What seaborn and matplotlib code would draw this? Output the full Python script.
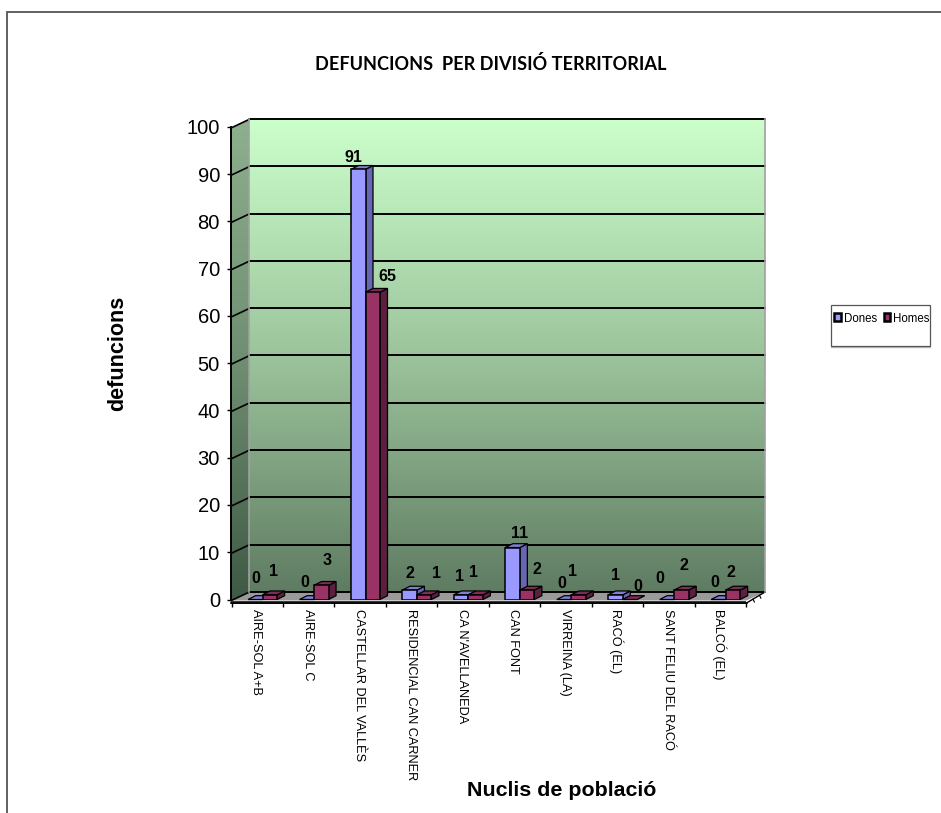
import numpy as np
import pandas as pd
import matplotlib
matplotlib.use("Agg")
import matplotlib.pyplot as plt
from matplotlib.colors import LinearSegmentedColormap
from matplotlib.patches import Polygon, Rectangle
import seaborn as sns

nuclis = ["AIRE-SOL A+B", "AIRE-SOL C", "CASTELLAR DEL VALLÈS", "RESIDENCIAL CAN CARNER",
          "CA N'AVELLANEDA", "CAN FONT", "VIRREINA (LA)", "RACÓ (EL)",
          "SANT FELIU DEL RACÓ", "BALCÓ (EL)"]
dones = [0, 0, 91, 2, 1, 11, 0, 1, 0, 0]
homes = [1, 3, 65, 1, 1, 2, 1, 0, 2, 2]
series_names = ["Dones", "Homes"]
y_ticks = list(range(0, 101, 10))

# label offsets from each bar's top centre, in pixels (the original labels wander)
off_dones = [(0, 21.5), (-2, 17.5), (-5, 12.3), (0, 17), (-2, 18), (7, 14.5), (-2, 16.5), (0.5, 19), (-7, 21.5), (-3.4, 17.5)]
off_homes = [(4, 22.8), (5.7, 25.3), (15, 16), (12, 21), (-2, 22), (10, 21), (-6.5, 23), (8, 13.5), (2.5, 25), (-2, 18)]

W, H = 941, 813
sns.set_theme(style="white")
plt.rcParams["font.family"] = ["Liberation Sans", "DejaVu Sans"]
fig = plt.figure(figsize=(W / 100, H / 100), dpi=100, facecolor="white")


def axes_px(x0, y_top, x1, y_bot, **kw):
    return fig.add_axes([x0 / W, 1 - y_bot / H, (x1 - x0) / W, (y_bot - y_top) / H], **kw)


# ---- pixel-space backdrop: frame, side wall, floor, legend box
bg = axes_px(0, 0, W, H)
bg.set_xlim(0, W)
bg.set_ylim(H, 0)
bg.axis("off")
bg.plot([7.5, 7.5, W], [H, 12.5, 12.5], color="#555555", lw=1.3, solid_joinstyle="miter")

side_cmap = LinearSegmentedColormap.from_list("side", ["#8DB08D", "#6F8F72", "#3F5A44"])
side_im = bg.imshow(np.linspace(0, 1, 256)[:, None], extent=(231, 249, 600, 119), cmap=side_cmap, aspect="auto", zorder=1)
side_poly = Polygon([(231, 128), (249, 119), (249, 592), (231, 600.5)], transform=bg.transData, facecolor="none", edgecolor="none")
bg.add_patch(side_poly)
side_im.set_clip_path(side_poly)
bg.set_xlim(0, W)
bg.set_ylim(H, 0)

bg.add_patch(Polygon([(231, 600.5), (249, 592), (765, 592), (746.5, 600.5)], facecolor="#9A9A9A", edgecolor="none", zorder=2))
bg.add_patch(Polygon([(231, 600.5), (746.5, 600.5), (746.5, 603.5), (231, 603.5)], facecolor="#3A3A3A", edgecolor="none", zorder=2))
bg.plot([746.5, 765], [603, 592], color="black", lw=1.0, zorder=3)
for t in (0.35, 0.7):
    bg.plot([746.5 + 18.5 * t, 746.5 + 18.5 * t + 1.5], [603 - 11 * t, 603 - 11 * t + 3], color="black", lw=0.8, zorder=3)

bg.add_patch(Rectangle((831, 305), 99, 41, facecolor="white", edgecolor="#555555", lw=0.9, zorder=2))
bg.plot([831, 930], [346.8, 346.8], color="#BBBBBB", lw=1, zorder=1)

# ---- back wall with gridlines
wall = axes_px(249, 119, 765, 592)
wall_cmap = LinearSegmentedColormap.from_list("wall", ["#CCFFCC", "#9CC49C", "#5F7C62"])
wall.imshow(np.linspace(0, 1, 256)[:, None], extent=(0, 1, 0, 100), cmap=wall_cmap, aspect="auto", zorder=0)
wall.set_xlim(0, 1)
wall.set_ylim(0, 100)
wall.set_xticks([])
wall.set_yticks(y_ticks)
wall.tick_params(left=False, labelleft=False)
wall.grid(True, axis="y", color="black", lw=1.4, zorder=1)
for ln in wall.get_ygridlines():
    ln.set_clip_on(False)
for name, sp in wall.spines.items():
    sp.set_visible(name in ("left", "right"))
    sp.set_color("#A0A0A0")
    sp.set_linewidth(1.2)

# ---- bars
SLOT, X0, BASE, UNIT = 51.45, 262.6, 599.5, 4.727
ax = axes_px(231, BASE - 100 * UNIT, 746.5, BASE)
ax.patch.set_alpha(0)
df = pd.DataFrame({
    "nucli": nuclis * 2,
    "sexe": [series_names[0]] * len(nuclis) + [series_names[1]] * len(nuclis),
    "defuncions": dones + homes,
})
palette = {"Dones": "#9999FF", "Homes": "#993366"}
sns.barplot(data=df, x="nucli", y="defuncions", hue="sexe", order=nuclis, hue_order=series_names,
            palette=palette, width=2 * 14.5 / SLOT, gap=0, saturation=1, errorbar=None,
            edgecolor="black", linewidth=1.1, ax=ax, zorder=5)
ax.set_xlim((231 - X0) / SLOT, (746.5 - X0) / SLOT)
ax.set_ylim(0, 100)

DX, DY = 7.5 / SLOT, 3.8 / UNIT
tops = {"Dones": "#7F7FD6", "Homes": "#802B55"}
sides = {"Dones": "#6666B3", "Homes": "#5C1F40"}
n = len(nuclis)
bars = [p for p in ax.patches if isinstance(p, Rectangle)][:2 * n]
for i, bar in enumerate(bars):
    s = series_names[0] if i < n else series_names[1]
    z = 5 + bar.get_x() * 0.01 + (0.001 if i >= n else 0)
    bar.set_zorder(z + 0.002)
    x0, x1, h = bar.get_x(), bar.get_x() + bar.get_width(), bar.get_height()
    if h > 0:
        ax.add_patch(Polygon([(x1, 0), (x1 + DX, DY), (x1 + DX, h + DY), (x1, h)], facecolor=sides[s], edgecolor="black", lw=0.9, zorder=z, clip_on=False))
    ax.add_patch(Polygon([(x0, h), (x0 + DX, h + DY), (x1 + DX, h + DY), (x1, h)], facecolor=tops[s], edgecolor="black", lw=0.9, zorder=z, clip_on=False))

    off = off_dones[i] if i < n else off_homes[i - n]
    val = dones[i] if i < n else homes[i - n]
    ax.annotate(str(val), xy=((x0 + x1) / 2, h), xytext=off, textcoords="offset pixels", ha="center", va="center",
                fontsize=11.5, fontweight="bold", color="black", annotation_clip=False, zorder=20)

# ---- axes, ticks, titles
ax.spines["top"].set_visible(False)
ax.spines["right"].set_visible(False)
ax.spines["left"].set_linewidth(1.4)
ax.spines["left"].set_color("black")
ax.spines["bottom"].set_position(("outward", 2.5))
ax.spines["bottom"].set_linewidth(1.2)
ax.spines["bottom"].set_color("black")
ax.set_yticks(y_ticks)
ax.tick_params(axis="y", left=True, length=3, width=1, color="black", pad=5, labelsize=14.5, labelcolor="black")
label_pos = np.arange(n) - 6.4 / SLOT
ax.set_xticks(label_pos)
ax.set_xticklabels(nuclis, rotation=-90, ha="center", va="top", fontsize=9.2, color="black")
ax.set_xticks(np.arange(n + 1) + (231.5 - X0) / SLOT, minor=True)
ax.tick_params(axis="x", which="major", bottom=False, length=0, pad=4.5)
ax.tick_params(axis="x", which="minor", bottom=True, length=3, width=1, color="black")
ax.set_xlabel("")
ax.set_ylabel("")
leg = ax.get_legend()
if leg:
    leg.remove()

# slanted ticks of the side wall
for v in y_ticks:
    y = 600.7 - v * UNIT
    bg.plot([231, 249], [y, y - 8.5], color="black", lw=1.2, zorder=3)

fig.text(490.5 / W, 1 - 64 / H, "DEFUNCIONS  PER DIVISIÓ TERRITORIAL", ha="center", va="center",
         fontsize=13.1, fontweight="bold", family=["Lato", "DejaVu Sans"], color="black")
fig.text(118 / W, 1 - 353 / H, "defuncions", rotation=90, ha="center", va="center", fontsize=15.5, fontweight="bold", color="black")
fig.text(562 / W, 1 - 790 / H, "Nuclis de població", ha="center", va="center", fontsize=15.4, fontweight="bold", color="black")

handles = [Rectangle((0, 0), 1, 1, facecolor=palette[s], edgecolor="black", lw=1.8) for s in series_names]
lg = fig.legend(handles, series_names, loc="center", bbox_to_anchor=(882 / W, 1 - 318.5 / H), ncol=2, frameon=False,
                fontsize=8.3, handlelength=0.6, handleheight=0.7, handletextpad=0.25, columnspacing=0.55, borderpad=0, labelcolor="black")
lg.set_zorder(30)

fig.savefig("out.png", dpi=100, facecolor="white")
